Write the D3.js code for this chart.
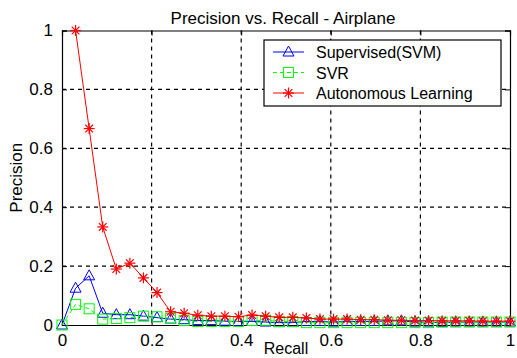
<!DOCTYPE html>
<html><head><meta charset="utf-8">
<script src="https://cdn.jsdelivr.net/npm/d3@7"></script>
<style>body{margin:0;background:#fff}svg{display:block}text{font-family:"Liberation Sans",Arial,sans-serif}</style>
</head><body>
<svg id="c" width="517" height="358"></svg>
<script>
const recall = d3.range(0, 34).map(k => k / 33);
const supervised = [0, 0.125, 0.167, 0.04, 0.035, 0.035, 0.03, 0.025, 0.02, 0.018, 0.015, 0.015, 0.013, 0.012, 0.012, 0.01, 0.008, 0.008, 0.012, 0.012, 0.01, 0.012, 0.012, 0.012, 0.014, 0.014, 0.01, 0.01, 0.008, 0.01, 0.01, 0.01, 0.01, 0.01];
const svr = [0, 0.07, 0.055, 0.02, 0.022, 0.025, 0.03, 0.028, 0.022, 0.015, 0.012, 0.012, 0.012, 0.012, 0.015, 0.016, 0.012, 0.012, 0.008, 0.008, 0.008, 0.008, 0.008, 0.008, 0.008, 0.008, 0.008, 0.008, 0.01, 0.01, 0.01, 0.01, 0.01, 0.01];
const autonomous = [null, 1.0, 0.667, 0.333, 0.19, 0.21, 0.16, 0.11, 0.045, 0.04, 0.033, 0.03, 0.03, 0.028, 0.034, 0.03, 0.026, 0.026, 0.024, 0.02, 0.02, 0.02, 0.018, 0.018, 0.016, 0.016, 0.015, 0.015, 0.014, 0.014, 0.014, 0.013, 0.013, 0.013];
const xTicks = [0, 0.2, 0.4, 0.6, 0.8, 1];
const yTicks = [0, 0.2, 0.4, 0.6, 0.8, 1];
const seriesNames = ["Supervised(SVM)", "SVR", "Autonomous Learning"];
const seriesColors = ["#0000ff", "#00ff00", "#ff0000"];

const svg = d3.select("#c");
const L = 62, R = 510, T = 30.5, B = 325;
const x = d3.scaleLinear().domain([0, 1]).range([L, R]);
const y = d3.scaleLinear().domain([0, 1]).range([B, T]);

// grid
const g = svg.append("g");
g.selectAll(".vg").data(xTicks.filter(t => t > 0 && t < 1)).enter().append("line")
  .attr("x1", d => x(d)).attr("x2", d => x(d)).attr("y1", T).attr("y2", B)
  .attr("stroke", "#000").attr("stroke-dasharray", "4,4").attr("stroke-width", 1.2);
g.selectAll(".hg").data(yTicks.filter(t => t > 0 && t < 1)).enter().append("line")
  .attr("y1", d => y(d)).attr("y2", d => y(d)).attr("x1", L).attr("x2", R)
  .attr("stroke", "#000").attr("stroke-dasharray", "4,4").attr("stroke-width", 1.2);

// axes
const fs = "17px";
const xAxB = d3.axisBottom(x).tickValues(xTicks).tickFormat(d3.format("")).tickSize(-5).tickPadding(9);
const xAxT = d3.axisTop(x).tickValues(xTicks).tickFormat("").tickSize(-5);
const yAxL = d3.axisLeft(y).tickValues(yTicks).tickFormat(d3.format("")).tickSize(-5).tickPadding(9);
const yAxR = d3.axisRight(y).tickValues(yTicks).tickFormat("").tickSize(-5);
function style(sel){ sel.selectAll("path").attr("stroke","#000").attr("stroke-width",1.2);
  sel.selectAll("line").attr("stroke","#000");
  sel.selectAll("text").attr("fill","#000").style("font-size",fs).attr("font-family","Liberation Sans, Arial, sans-serif"); }
svg.append("g").attr("transform",`translate(0,${B})`).call(xAxB).call(style);
svg.append("g").attr("transform",`translate(0,${T})`).call(xAxT).call(style);
svg.append("g").attr("transform",`translate(${L},0)`).call(yAxL).call(style);
svg.append("g").attr("transform",`translate(${R},0)`).call(yAxR).call(style);

// data
const all = [supervised, svr, autonomous];
const dashes = [null, "4,3", null];
const line = d3.line().defined(d => d[1] != null).x(d => x(d[0])).y(d => y(d[1]));
const plot = svg.append("g");
function marker(sel, i, cx, cy){
  const c = seriesColors[i];
  if (i === 0) {
    sel.append("path").attr("d", `M${cx},${cy-6}L${cx+5.5},${cy+4}L${cx-5.5},${cy+4}Z`).attr("fill","none").attr("stroke",c).attr("stroke-width",1);
  } else if (i === 1) {
    sel.append("rect").attr("x",cx-5).attr("y",cy-5).attr("width",10).attr("height",10).attr("fill","none").attr("stroke",c).attr("stroke-width",1);
  } else {
    const r = 5.5;
    [[0,1],[1,0],[0.7,0.7],[0.7,-0.7]].forEach(([a,b]) => {
      sel.append("line").attr("x1",cx-a*r).attr("y1",cy-b*r).attr("x2",cx+a*r).attr("y2",cy+b*r).attr("stroke",c).attr("stroke-width",1.2);
    });
  }
}
all.forEach((vals, i) => {
  const pts = recall.map((r, k) => [r, vals[k]]);
  plot.append("path").datum(pts).attr("d", line).attr("fill","none")
    .attr("stroke", seriesColors[i]).attr("stroke-width", 1).attr("stroke-dasharray", dashes[i]);
  const mg = plot.append("g");
  pts.filter(d => d[1] != null).forEach(d => marker(mg, i, x(d[0]), y(d[1])));
});

// legend
const lg = svg.append("g");
lg.append("rect").attr("x",264).attr("y",40).attr("width",237).attr("height",66).attr("fill","#fff").attr("stroke","#000").attr("stroke-width",1.2);
seriesNames.forEach((n, i) => {
  const ly = 52 + i * 20.5;
  lg.append("line").attr("x1",273).attr("x2",304).attr("y1",ly).attr("y2",ly)
    .attr("stroke",seriesColors[i]).attr("stroke-width",1).attr("stroke-dasharray",dashes[i]);
  marker(lg, i, 288.5, ly);
  lg.append("text").attr("x",316).attr("y",ly+6).text(n).style("font-size","16px").attr("fill","#000");
});

// titles
svg.append("text").attr("x",(L+R)/2-3).attr("y",24).attr("text-anchor","middle").style("font-size","17px").text("Precision vs. Recall - Airplane");
svg.append("text").attr("x",(L+R)/2).attr("y",354).attr("text-anchor","middle").style("font-size","16px").text("Recall");
svg.append("text").attr("transform",`translate(22,${(T+B)/2}) rotate(-90)`).attr("text-anchor","middle").style("font-size","17px").text("Precision");
</script>
</body></html>
